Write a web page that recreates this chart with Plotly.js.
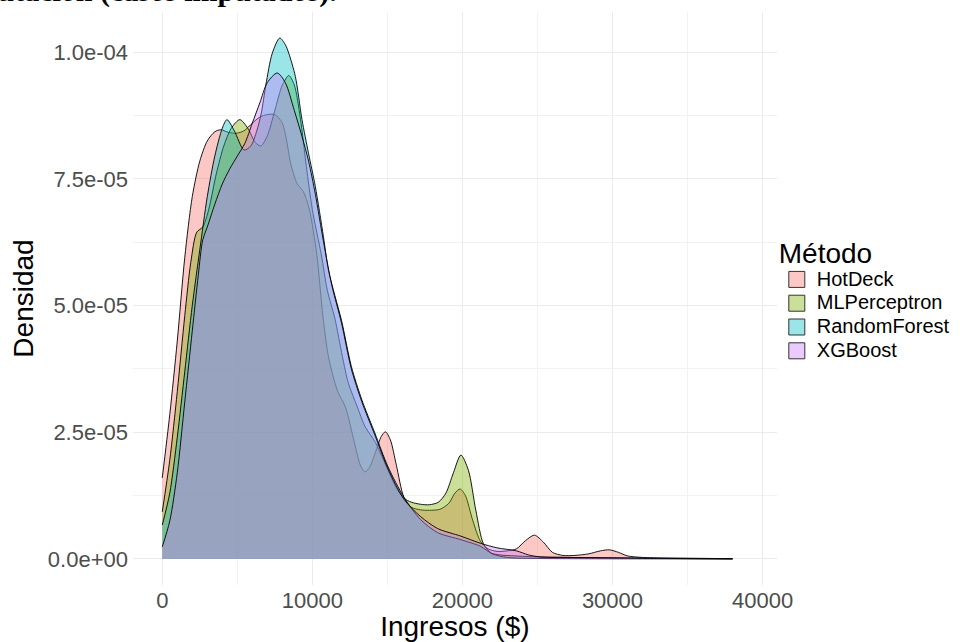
<!DOCTYPE html>
<html>
<head>
<meta charset="utf-8">
<script src="https://cdn.plot.ly/plotly-3.0.1.min.js"></script>
<style>html,body{margin:0;padding:0;background:#fff;}#chart{width:971px;height:642px;}</style>
</head>
<body>
<div id="chart"></div>
<script>
// ---- data (income in $, density in units of 1e-5) ----
const DENSITY_UNIT = 1e-5;
const methods = ["HotDeck", "MLPerceptron", "RandomForest", "XGBoost"];
const colors = ["#F8766D", "#7CAE00", "#00BFC4", "#C77CFF"];

const hotdeckX = [0,500,1000,1500,2000,2500,3000,3500,3900,4400,4900,5450,6000,6500,7000,7500,8000,8600,9000,9400,9800,10300,10700,11100,11700,12200,12800,13200,13500,13800,14200,14600,14870,15200,15600,16100,16600,17200,17800,18500,19100,19500,19850,20200,20700,21200,21700,22300,23000,23600,24200,24800,25400,26000,26700,27500,28400,29200,29800,30400,31000,32000,33500,35000,36500,38000];
const hotdeckY = [1.6,2.85,4.3,5.95,7.15,7.85,8.25,8.43,8.47,8.42,8.4,8.45,8.6,8.72,8.77,8.77,8.6,7.75,7.4,7.25,6.9,6.0,4.8,3.95,3.3,3.0,2.3,1.85,1.72,1.8,2.1,2.42,2.51,2.35,1.85,1.22,1.02,0.97,0.96,0.98,1.1,1.3,1.38,1.25,0.75,0.35,0.2,0.15,0.16,0.2,0.36,0.47,0.33,0.13,0.07,0.07,0.1,0.16,0.18,0.13,0.06,0.03,0.02,0.015,0.01,0.005];

const mlpX = [0,500,1000,1500,1900,2300,2700,3100,3600,4100,4600,5170,5700,6200,6560,7000,7500,8000,8430,8800,9200,9600,10000,10600,11000,11500,12000,12400,13000,13500,14200,15000,15600,16100,16600,17200,17800,18400,18900,19400,19900,20400,20900,21400,21900,22500,23500,25000,27000,30000,33000,36000,38000];
const mlpY = [0.93,1.95,3.3,4.8,5.85,6.45,6.55,6.9,7.6,8.15,8.5,8.67,8.5,8.22,8.15,8.35,8.85,9.35,9.54,9.35,8.7,7.75,6.9,6.0,5.3,4.75,4.0,3.47,3.0,2.62,2.3,1.78,1.4,1.2,1.12,1.08,1.07,1.12,1.3,1.7,2.05,1.75,0.95,0.3,0.12,0.08,0.06,0.04,0.03,0.02,0.01,0.005,0.003];

const rfX = [0,500,1000,1500,2000,2500,3000,3500,4000,4310,4800,5450,5900,6300,6600,6900,7330,7830,8200,8430,8870,9310,9750,10200,10740,11070,11500,11950,12600,13300,14160,15040,16100,17200,18350,19900,21200,22000,23000,25000,28000,32000,38000];
const rfY = [0.67,1.3,2.4,3.7,5.0,6.1,7.15,7.95,8.5,8.67,8.45,8.07,8.15,8.45,8.8,9.35,9.98,10.28,10.15,9.98,9.52,8.67,8.0,7.35,6.36,5.7,5.2,4.7,3.8,3.14,2.49,1.82,1.22,0.78,0.52,0.38,0.25,0.1,0.03,0.01,0.005,0.003,0.001];

const xgbX = [0,500,1000,1500,2000,2400,2700,3000,3500,4000,4500,5000,5500,6000,6500,7000,7660,8200,8800,9300,9750,10200,10750,11300,11950,12600,13300,14160,15040,16100,17200,18350,19900,21200,22300,23600,24400,25200,27000,29000,31000,33000,35000,38000];
const xgbY = [0.24,0.75,1.7,3.1,4.5,5.6,6.3,6.55,7.0,7.4,7.7,7.95,8.2,8.6,9.0,9.4,9.59,9.4,8.85,8.35,7.85,7.2,6.25,5.4,4.65,3.75,3.1,2.45,1.78,1.18,0.84,0.6,0.45,0.31,0.22,0.16,0.08,0.04,0.03,0.025,0.02,0.012,0.008,0.003];

const seriesX = [hotdeckX, mlpX, rfX, xgbX];
const seriesY = [hotdeckY, mlpY, rfY, xgbY];

const xTickVals = [0, 10000, 20000, 30000, 40000];
const xTickText = ["0", "10000", "20000", "30000", "40000"];
const yTickVals = [0, 2.5e-5, 5.0e-5, 7.5e-5, 1.0e-4];
const yTickText = ["0.0e+00", "2.5e-05", "5.0e-05", "7.5e-05", "1.0e-04"];

const captionText = "<b>Distribución del ingreso según método de imputación (casos imputados).</b>";

function rgba(hex, a) {
  const r = parseInt(hex.slice(1,3),16), g = parseInt(hex.slice(3,5),16), b = parseInt(hex.slice(5,7),16);
  return `rgba(${r},${g},${b},${a})`;
}

const traces = [];
methods.forEach((m, i) => {
  traces.push({
    type: "scatter", mode: "lines", name: m,
    x: seriesX[i], y: seriesY[i].map(v => v * DENSITY_UNIT),
    fill: "tozeroy", fillcolor: rgba(colors[i], 0.4),
    line: {color: "rgba(0,0,0,0.9)", width: 1, shape: "spline", smoothing: 0.8},
    showlegend: false, hoverinfo: "skip"
  });
});
methods.forEach((m, i) => {
  traces.push({
    type: "scatter", mode: "markers",
    name: `<span style="font-size:20px">${m}</span>`,
    x: [null], y: [null],
    marker: {symbol: "square", size: 18, color: rgba(colors[i], 0.4), line: {color: "#333", width: 1}},
    showlegend: true, hoverinfo: "skip"
  });
});

const FONT = "Liberation Sans, Arial, sans-serif";
const layout = {
  width: 971, height: 642,
  margin: {l: 133, r: 189, t: 12, b: 57, pad: 0},
  paper_bgcolor: "#ffffff", plot_bgcolor: "#ffffff",
  font: {family: FONT, color: "#000"},
  xaxis: {
    range: [-1950, 40950], tickvals: xTickVals, ticktext: xTickText,
    showgrid: true, gridcolor: "#ebebeb", gridwidth: 1,
    minor: {dtick: 5000, showgrid: true, gridcolor: "#f2f2f2", gridwidth: 1},
    zeroline: false, showline: false, ticks: "",
    tickfont: {family: FONT, size: 22, color: "#4d4d4d"},
    title: {text: "Ingresos ($)", font: {family: FONT, size: 28, color: "#000"}, standoff: 2}
  },
  yaxis: {
    range: [-0.514e-5, 10.794e-5], tickvals: yTickVals, ticktext: yTickText,
    showgrid: true, gridcolor: "#ebebeb", gridwidth: 1,
    minor: {dtick: 1.25e-5, tick0: 0, showgrid: true, gridcolor: "#f2f2f2", gridwidth: 1},
    zeroline: false, showline: false, ticks: "", ticklabelstandoff: 4,
    tickfont: {family: FONT, size: 22, color: "#4d4d4d"},
    title: {text: "Densidad", font: {family: FONT, size: 28, color: "#000"}, standoff: 6}
  },
  legend: {
    xref: "container", yref: "container", x: 0.800, y: 0.664, xanchor: "left", yanchor: "top",
    title: {text: '<span style="font-size:28px">Método</span>', font: {family: FONT, size: 36, color: "#000"}},
    font: {family: FONT, size: 16, color: "#000"},
    bgcolor: "rgba(0,0,0,0)", borderwidth: 0, tracegroupgap: 0
  },
  annotations: [{
    xref: "paper", yref: "paper", x: 0.3205, y: 1.004, xanchor: "right", yanchor: "bottom",
    text: captionText, showarrow: false,
    font: {family: "Liberation Serif, Times New Roman, serif", size: 30, color: "#000"}
  }]
};

Plotly.newPlot("chart", traces, layout, {displayModeBar: false, staticPlot: true});
</script>
</body>
</html>
